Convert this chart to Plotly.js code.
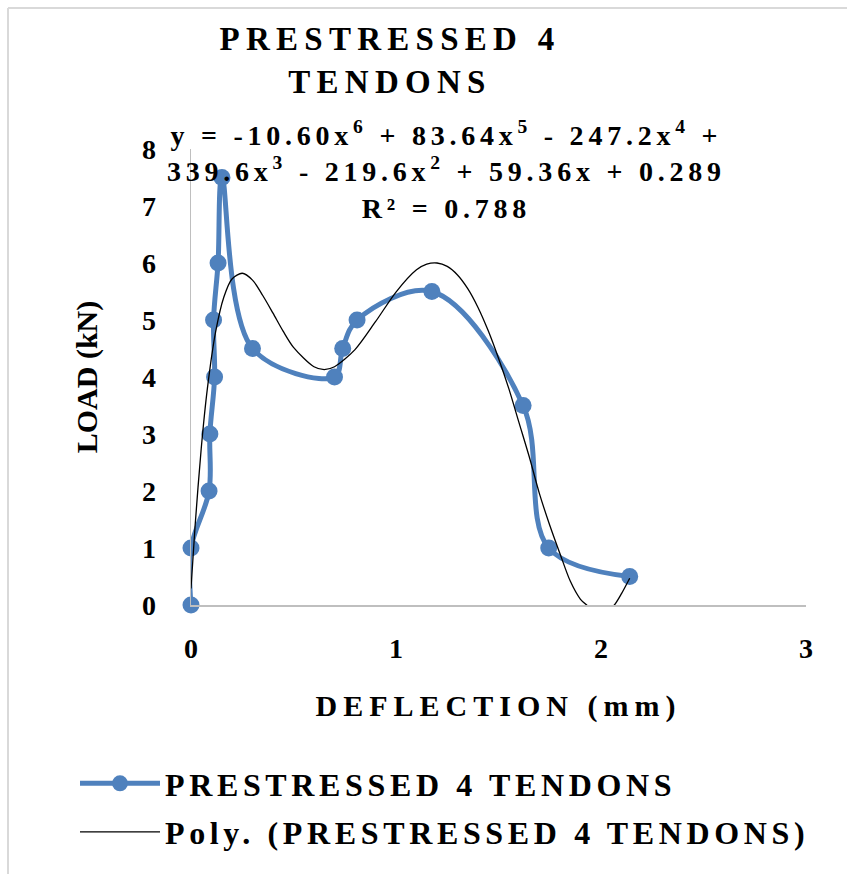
<!DOCTYPE html>
<html>
<head>
<meta charset="utf-8">
<script src="https://cdn.plot.ly/plotly-3.0.1.min.js"></script>
<style>
html, body { margin: 0; padding: 0; background: #ffffff; }
#chart { width: 847px; height: 874px; }
.gtitle { letter-spacing: 0.19em; }
.legendtext { letter-spacing: 0.145em; }
.annotation-text { letter-spacing: 0.17em; }
.xtitle { letter-spacing: 0.2em; }
</style>
</head>
<body>
<div id="chart"></div>
<script>
// Measured data points (deflection in mm, load in kN)
const deflection = [0, 0, 0.088, 0.092, 0.115, 0.11, 0.132, 0.151, 0.30, 0.70, 0.74, 0.81, 1.175, 1.62, 1.745, 2.14];
const load       = [0, 1, 2, 3, 4, 5, 6, 7.5, 4.5, 4, 4.5, 5, 5.5, 3.5, 1, 0.5];

// Polynomial trendline
const trendX = [0, 0.02, 0.05, 0.08, 0.12, 0.16, 0.2, 0.25, 0.3, 0.35, 0.4, 0.45, 0.5, 0.6, 0.65, 0.7, 0.8, 0.9, 1.0, 1.1, 1.15, 1.2, 1.25, 1.3, 1.35, 1.4, 1.45, 1.5, 1.55, 1.6, 1.65, 1.7, 1.75, 1.8, 1.85, 1.9, 1.93, 1.97, 2.0, 2.04, 2.065, 2.1, 2.14];
const trendY = [0.29, 1.39, 2.75, 3.8, 4.79, 5.4, 5.72, 5.82, 5.7, 5.43, 5.12, 4.8, 4.52, 4.18, 4.13, 4.18, 4.48, 4.97, 5.49, 5.88, 5.98, 6.0, 5.94, 5.79, 5.55, 5.22, 4.81, 4.33, 3.8, 3.2, 2.6, 1.95, 1.4, 0.9, 0.42, 0.1, 0.0, -0.1, -0.13, -0.07, 0.0, 0.2, 0.47];

const xTicks = [0, 1, 2, 3];
const yTicks = [0, 1, 2, 3, 4, 5, 6, 7, 8];

const seriesName = 'PRESTRESSED 4 TENDONS';
const trendName = 'Poly. (PRESTRESSED 4 TENDONS)';
const equationLines = [
  'y = -10.60x<sup>6</sup> + 83.64x<sup>5</sup> - 247.2x<sup>4</sup> +',
  '339.6x<sup>3</sup> - 219.6x<sup>2</sup> + 59.36x + 0.289',
  'R² = 0.788'
];

const serif = 'Liberation Serif, Times New Roman, serif';
const blue = '#4f81bd';

const W = 847, H = 874;
const plotL = 191, plotR = 806, plotT = 149, plotB = 605;
const px2x = p => (p - plotL) / (plotR - plotL);
const py2y = p => (plotB - p) / (plotB - plotT);

const traces = [
  {
    x: deflection, y: load, name: seriesName, type: 'scatter', mode: 'lines+markers',
    line: { color: blue, width: 5, shape: 'spline', smoothing: 1 },
    marker: { color: blue, size: 17, symbol: 'circle' },
    cliponaxis: false, legendgroup: 'a'
  },
  {
    x: trendX, y: trendY, name: trendName, type: 'scatter', mode: 'lines',
    line: { color: '#000000', width: 1.3, shape: 'spline', smoothing: 0.8 },
    legendgroup: 'b'
  }
];

const layout = {
  width: W, height: H,
  margin: { l: plotL, r: W - plotR, t: plotT, b: H - plotB, pad: 0 },
  paper_bgcolor: '#ffffff', plot_bgcolor: '#ffffff',
  font: { family: serif, color: '#000000', size: 28, weight: 'bold' },
  title: {
    text: '<b>PRESTRESSED 4<br>TENDONS</b>',
    font: { family: serif, size: 33, color: '#000000' },
    x: 390 / W, xanchor: 'center', xref: 'container',
    y: 1 - 50 / H, yanchor: 'top', yref: 'container'
  },
  xaxis: {
    range: [0, 3], tickvals: xTicks, ticktext: xTicks.map(String),
    showgrid: false, zeroline: false, showline: true, linecolor: '#bfbfbf', linewidth: 1.5,
    ticks: '', ticklabelstandoff: 18,
    tickfont: { family: serif, size: 28, weight: 'bold' },
    title: { text: '<b>DEFLECTION (mm)</b>', font: { family: serif, size: 30 }, standoff: 32 },
    automargin: false, fixedrange: true
  },
  yaxis: {
    range: [0, 8], tickvals: yTicks, ticktext: yTicks.map(String),
    showgrid: false, zeroline: false, showline: true, linecolor: '#bfbfbf', linewidth: 1.5,
    ticks: '', ticklabelstandoff: 28,
    tickfont: { family: serif, size: 28, weight: 'bold' },
    title: { text: '<b>LOAD (kN)</b>', font: { family: serif, size: 30 }, standoff: 35 },
    automargin: false, fixedrange: true
  },
  showlegend: true,
  legend: {
    x: px2x(75), xanchor: 'left', y: py2y(756), yanchor: 'top',
    font: { family: serif, size: 32, color: '#000000', weight: 'bold' },
    bgcolor: 'rgba(0,0,0,0)', itemwidth: 80, tracegroupgap: 4, traceorder: 'grouped'
  },
  annotations: [
    {
      text: '<b>' + equationLines.join('<br>') + '</b>',
      xref: 'paper', yref: 'paper', x: px2x(446), y: py2y(114),
      xanchor: 'center', yanchor: 'top', showarrow: false, align: 'center',
      font: { family: serif, size: 28, color: '#000000' }
    }
  ],
  shapes: [
    { type: 'line', xref: 'paper', yref: 'paper', x0: px2x(8), x1: px2x(860), y0: py2y(8), y1: py2y(8),
      line: { color: '#d9d9d9', width: 2 } },
    { type: 'line', xref: 'paper', yref: 'paper', x0: px2x(8), x1: px2x(8), y0: py2y(8), y1: py2y(880),
      line: { color: '#d9d9d9', width: 2 } }
  ]
};

Plotly.newPlot('chart', traces, layout, { displayModeBar: false, staticPlot: true });
</script>
</body>
</html>
